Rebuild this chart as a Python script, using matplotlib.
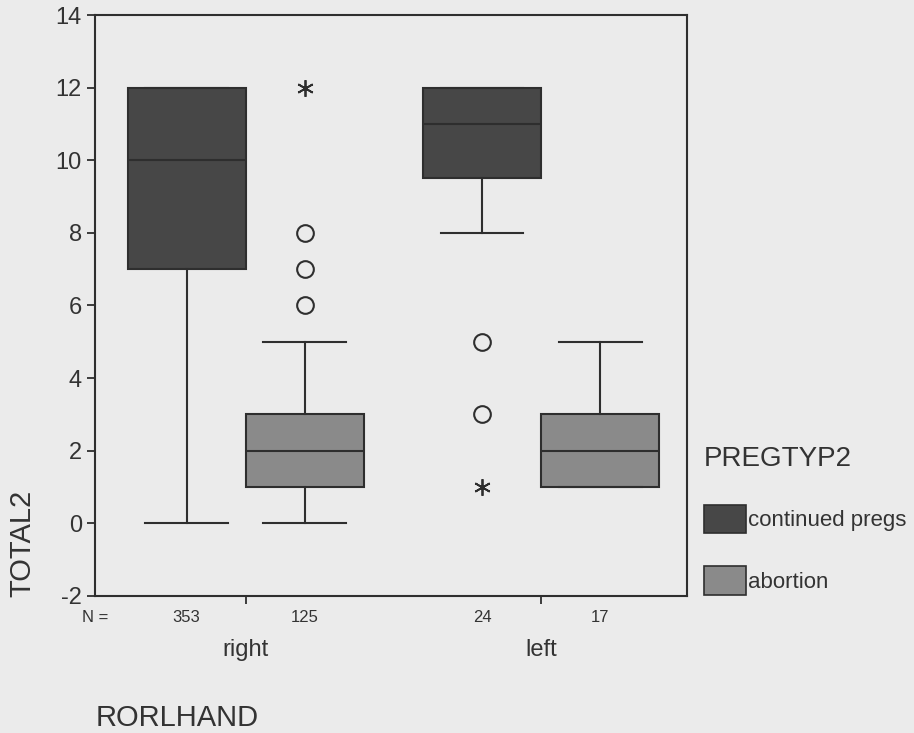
import matplotlib.pyplot as plt
from matplotlib.patches import Patch

plt.rcParams['font.family'] = ['Liberation Sans', 'DejaVu Sans']
plt.rcParams['axes.unicode_minus'] = False

# box summaries per handedness group and pregnancy type
groups = ["right", "left"]
series = ["continued pregs", "abortion"]
whislo = [[0, 0], [8, 1]]
q1 = [[7, 1], [9.5, 1]]
med = [[10, 2], [11, 2]]
q3 = [[12, 3], [12, 3]]
whishi = [[12, 5], [12, 5]]
counts = [[353, 125], [24, 17]]

# outliers (circles) and extremes (asterisks): (group, series, value)
outliers = [(0, 1, 6), (0, 1, 7), (0, 1, 8), (1, 0, 5), (1, 0, 3)]
extremes = [(0, 1, 12), (1, 0, 1)]

fills = ["#474747", "#8a8a8a"]
line_col = "#2e2e2e"
txt_col = "#333333"
bg = "#ebebeb"
offsets = [-0.2, 0.2]
box_w = 0.4

fig = plt.figure(figsize=(9.14, 7.33), dpi=100, facecolor=bg)
ax = fig.add_axes([0.104, 0.187, 0.648, 0.7925], facecolor=bg)

for s in range(2):
    stats = []
    for g in range(2):
        stats.append(dict(med=med[g][s], q1=q1[g][s], q3=q3[g][s],
                          whislo=whislo[g][s], whishi=whishi[g][s]))
    pos = [g + 1 + offsets[s] for g in range(2)]
    ax.bxp(stats, positions=pos, widths=box_w, patch_artist=True,
           showfliers=False, manage_ticks=False,
           boxprops=dict(facecolor=fills[s], edgecolor=line_col, linewidth=1.5),
           medianprops=dict(color=line_col, linewidth=1.5),
           whiskerprops=dict(color=line_col, linewidth=1.5),
           capprops=dict(color=line_col, linewidth=1.5),
           capwidths=box_w * 0.7)

for g, s, v in outliers:
    ax.plot(g + 1 + offsets[s], v, marker='o', markersize=12, mfc='none',
            mec=line_col, mew=1.5)
for g, s, v in extremes:
    ax.plot(g + 1 + offsets[s], v, marker=(6, 2, 0), markersize=12,
            color=line_col, mew=1.3)

ax.set_xlim(0.49, 2.495)
ax.set_ylim(-2, 14)
ax.set_yticks(range(-2, 15, 2))
ax.set_xticks([1, 2])
ax.set_xticklabels(groups, fontsize=17, color=txt_col)
ax.tick_params(axis='x', length=6, width=1.3, pad=25, colors=line_col, labelcolor=txt_col)
ax.tick_params(axis='y', length=6, width=1.3, labelsize=17, colors=line_col, labelcolor=txt_col)
for sp in ax.spines.values():
    sp.set_color(line_col)
    sp.set_linewidth(1.5)

# N counts under each box
ax.text(0, -0.025, "N =", transform=ax.transAxes, ha='center', va='top',
        fontsize=12, color=txt_col)
for g in range(2):
    for s in range(2):
        ax.text(g + 1 + offsets[s], -0.025, str(counts[g][s]),
                transform=ax.get_xaxis_transform(), ha='center', va='top',
                fontsize=12, color=txt_col)

fig.text(0.025, 0.259, "TOTAL2", rotation=90, ha='center', va='center',
         fontsize=21, color=txt_col)
fig.text(0.105, 0.021, "RORLHAND", ha='left', va='center',
         fontsize=21, color=txt_col)

handles = [Patch(facecolor=fills[i], edgecolor=line_col, linewidth=1.2, label=series[i])
           for i in range(2)]
leg = fig.legend(handles=handles, title="PREGTYP2", loc='upper left',
                 bbox_to_anchor=(0.770, 0.392), frameon=False, fontsize=16,
                 title_fontsize=20, handlelength=1.9, handleheight=1.57,
                 handletextpad=0.1, labelspacing=1.5, borderpad=0,
                 borderaxespad=0)
leg._legend_box.align = "left"
leg.get_title().set_color(txt_col)
for t in leg.get_texts():
    t.set_color(txt_col)

fig.savefig("out.png", dpi=100, facecolor=bg)
